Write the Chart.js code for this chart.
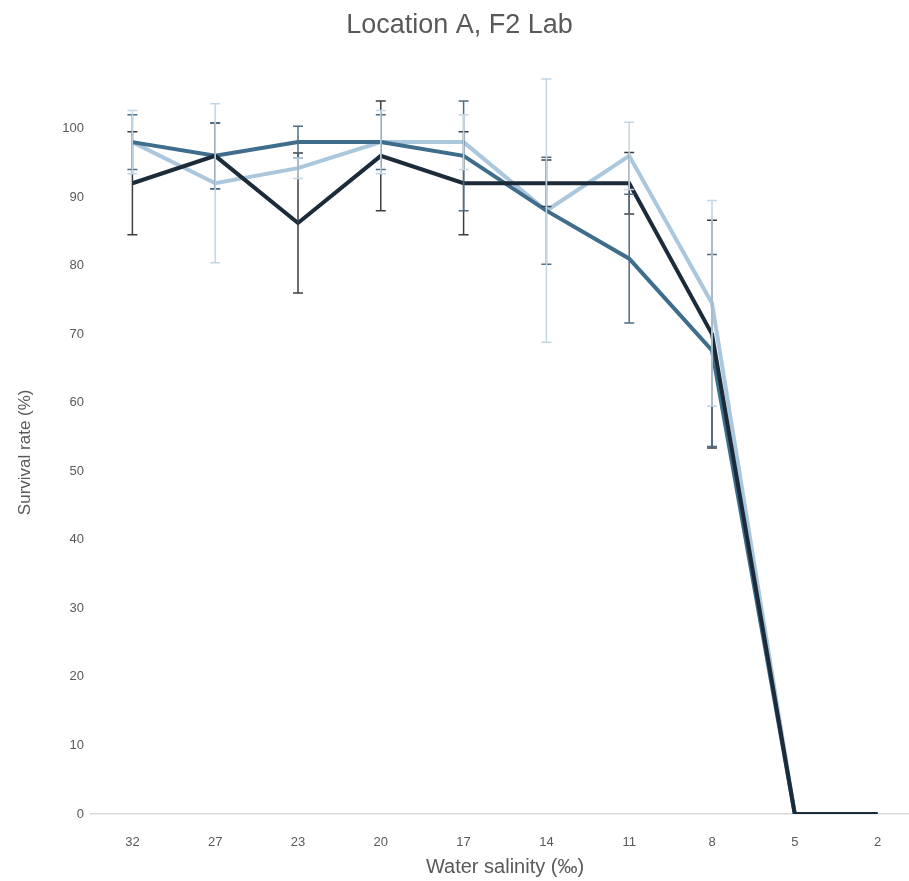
<!DOCTYPE html>
<html>
<head>
<meta charset="utf-8">
<script src="https://cdn.jsdelivr.net/npm/chart.js@4.4.0/dist/chart.umd.min.js"></script>
<style>
  html, body { margin: 0; padding: 0; background: #fff; overflow: hidden; }
  #wrap { width: 926px; height: 881px; }
</style>
</head>
<body>
<div id="wrap"><canvas id="myChart" width="926" height="881"></canvas></div>
<script>
// Salinity categories (x axis)
const salinity = ["32", "27", "23", "20", "17", "14", "11", "8", "5", "2"];

// Survival rates (%) per series
const darkValues = [92, 96, 86.2, 96, 92, 92, 92, 70, 0, 0];
const midValues = [98, 96, 98, 98, 96, 88, 81, 67.6, 0, 0];
const lightValues = [98, 92, 94.2, 98, 98, 88, 96, 74.5, 0, 0];

// Error bar half-lengths (+/-)
const darkErrors = [7.5, 4.8, 10.2, 8, 7.5, 3.4, 4.5, 16.6, 0, 0];
const midErrors = [4, 4.8, 2.3, 4, 8, 7.8, 9.4, 14, 0, 0];
const lightErrors = [4.6, 11.6, 1.5, 4.6, 4, 19.2, 4.9, 15, 0, 0];

// Y axis ticks
const yTicks = [0, 10, 20, 30, 40, 50, 60, 70, 80, 90, 100];

const textColor = "#595959";
const fontFamily = "'Liberation Sans', Arial, sans-serif";

// Petit plugin pour dessiner les barres d'erreur
const errorBars = {
    id: "errorBars",
    afterDatasetsDraw(chart) {
        const ctx = chart.ctx;
        const yScale = chart.scales.y;
        chart.data.datasets.forEach((ds, i) => {
            const meta = chart.getDatasetMeta(i);
            ctx.save();
            ctx.strokeStyle = ds.errorColor;
            ctx.lineWidth = 1.5;
            meta.data.forEach((pt, j) => {
                const err = ds.errors[j];
                if (!err) return;
                const v = ds.data[j];
                const top = yScale.getPixelForValue(v + err);
                const bot = yScale.getPixelForValue(v - err);
                const x = pt.x;
                ctx.beginPath();
                ctx.moveTo(x, top);
                ctx.lineTo(x, bot);
                ctx.moveTo(x - 5, top);
                ctx.lineTo(x + 5, top);
                ctx.moveTo(x - 5, bot);
                ctx.lineTo(x + 5, bot);
                ctx.stroke();
            });
            ctx.restore();
        });
    }
};

new Chart(document.getElementById("myChart"), {
    type: "line",
    data: {
        labels: salinity,
        datasets: [
            {
                label: "Dark",
                data: darkValues,
                errors: darkErrors,
                errorColor: "#3a3f45",
                borderColor: "#1c2b3a",
                borderWidth: 4,
                pointRadius: 0,
                fill: false
            },
            {
                label: "Mid",
                data: midValues,
                errors: midErrors,
                errorColor: "#4f6d84",
                borderColor: "#3f6d8c",
                borderWidth: 4,
                pointRadius: 0,
                fill: false
            },
            {
                label: "Light",
                data: lightValues,
                errors: lightErrors,
                errorColor: "#c2d5e4",
                borderColor: "#aac7dd",
                borderWidth: 4,
                pointRadius: 0,
                fill: false
            }
        ]
    },
    options: {
        responsive: false,
        animation: false,
        layout: { padding: { left: 0, right: 7, top: 0, bottom: 0 } },
        plugins: {
            legend: { display: false },
            tooltip: { enabled: false },
            title: {
                display: true,
                text: "Location A, F2 Lab",
                color: textColor,
                font: { family: fontFamily, size: 27, weight: "normal" },
                padding: { top: 9, bottom: 87 }
            }
        },
        scales: {
            x: {
                offset: true,
                grid: { display: false, drawTicks: false },
                border: { display: true, color: "#d9d9d9", width: 1.5 },
                ticks: { color: textColor, font: { family: fontFamily, size: 13 }, padding: 21 },
                title: {
                    display: true,
                    text: "Water salinity (‰)",
                    color: textColor,
                    font: { family: fontFamily, size: 20 },
                    padding: { top: 0, bottom: 2 }
                },
                afterFit: scale => { scale.height = 67; }
            },
            y: {
                min: 0,
                max: 100,
                afterBuildTicks: scale => { scale.ticks = yTicks.map(v => ({ value: v })); },
                grid: { display: false, drawTicks: false },
                border: { display: false },
                ticks: { color: textColor, font: { family: fontFamily, size: 13 }, padding: 7 },
                title: {
                    display: true,
                    // espaces en tête pour remonter le titre comme dans l'original
                    text: "\u00a0\u00a0\u00a0\u00a0\u00a0\u00a0\u00a0\u00a0Survival rate (%)",
                    color: textColor,
                    font: { family: fontFamily, size: 17 },
                    padding: { top: 15, bottom: 0 }
                },
                afterFit: scale => { scale.width = 91; }
            }
        }
    },
    plugins: [errorBars]
});
</script>
</body>
</html>
